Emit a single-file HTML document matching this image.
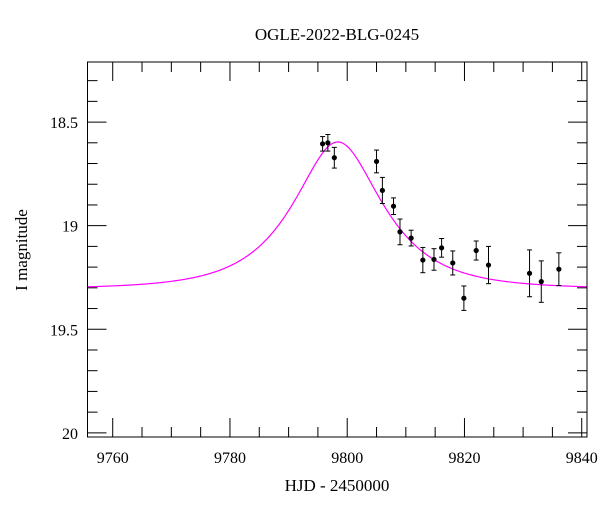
<!DOCTYPE html>
<html><head><meta charset="utf-8"><style>
body{margin:0;background:#fff}
svg{display:block;font-family:"Liberation Serif",serif}
</style></head><body>
<svg id="chart" width="600" height="512" viewBox="0 0 600 512" xmlns="http://www.w3.org/2000/svg">
<text x="337" y="40" font-size="17" text-anchor="middle">OGLE-2022-BLG-0245</text>
<text x="337" y="491" font-size="17" text-anchor="middle">HJD - 2450000</text>
<text transform="translate(27,250) rotate(-90)" font-size="17" text-anchor="middle">I magnitude</text>
<g id="ticks"></g>
<g id="model"></g>
<g id="points"></g>
<rect x="87.5" y="62" width="499.5" height="375" fill="none" stroke="#000" stroke-width="1"/>
</svg>
<script>
const times=[9795.8,9796.7,9797.8,9805.0,9806.0,9807.9,9809.0,9810.9,9812.9,9814.8,9816.1,9818.0,9819.9,9822.0,9824.1,9831.1,9833.1,9836.1];
const mags=[18.605,18.600,18.672,18.69,18.83,18.906,19.03,19.06,19.166,19.163,19.107,19.18,19.35,19.12,19.19,19.23,19.27,19.21];
const errs=[0.035,0.04,0.05,0.055,0.063,0.04,0.062,0.038,0.061,0.052,0.045,0.058,0.059,0.046,0.09,0.113,0.1,0.079];
const modelParams=[9798.4,0.585,12.1,19.305];
const xTicks=[9760,9780,9800,9820,9840];
const yTicks=[18.5,19,19.5,20];
const X0=87.5,X1=587,Y0=62,Y1=437;
const tMin=9755.7,tMax=9840.9,mMin=18.21,mMax=20.02;
const xs=t=>X0+(t-tMin)/(tMax-tMin)*(X1-X0);
const ys=m=>Y0+(m-mMin)/(mMax-mMin)*(Y1-Y0);
const NS="http://www.w3.org/2000/svg";
const mk=(p,tag,a)=>{const e=document.createElementNS(NS,tag);for(const k in a)e.setAttribute(k,a[k]);p.appendChild(e);return e;};
const tg=document.getElementById('ticks');
function line(x1,y1,x2,y2){const l=mk(tg,'line',{x1,y1,x2,y2,stroke:'#000','stroke-width':1});

}
for(let t=9760;t<=9840;t+=5){const x=xs(t);const L=(t%20===0)?19:10;line(x,Y1,x,Y1-L);line(x,Y0,x,Y0+L);}
for(let i=19;i<=200;i++){const m=i/10;if(m<mMin||m>mMax)continue;const y=ys(m);const L=(i%5===0)?19:10;line(X0,y,X0+L,y);line(X1,y,X1-L,y);}
xTicks.forEach(t=>{const e=mk(tg,'text',{x:xs(t),y:463,'font-size':16,'text-anchor':'middle'});e.textContent=t;

});
yTicks.forEach(m=>{const e=mk(tg,'text',{x:78,y:ys(m)+6,'font-size':16,'text-anchor':'end'});e.textContent=m;

});
const [t0,u0,tE,base]=modelParams;
let d='';
for(let px=X0;px<=X1;px+=1){const t=tMin+(px-X0)/(X1-X0)*(tMax-tMin);const tau=(t-t0)/tE;const u=Math.sqrt(u0*u0+tau*tau);
const A=(u*u+2)/(u*Math.sqrt(u*u+4));const m=base-2.5*Math.log10(A);d+=(d?'L':'M')+px.toFixed(1)+','+ys(m).toFixed(2);}
const mp=mk(document.getElementById('model'),'path',{d,fill:'none',stroke:'#ff00ff','stroke-width':1.2});


const pg=document.getElementById('points');
times.forEach((t,i)=>{const x=xs(t),y=ys(mags[i]),ya=ys(mags[i]-errs[i]),yb=ys(mags[i]+errs[i]);
const g=mk(pg,'g',{stroke:'#000','stroke-width':1});


mk(g,'line',{x1:x,y1:ya,x2:x,y2:yb});
mk(g,'line',{x1:x-2.5,y1:ya,x2:x+2.5,y2:ya});
mk(g,'line',{x1:x-2.5,y1:yb,x2:x+2.5,y2:yb});
mk(g,'circle',{cx:x,cy:y,r:2.6,fill:'#000',stroke:'none'});});
</script>
</body></html>
